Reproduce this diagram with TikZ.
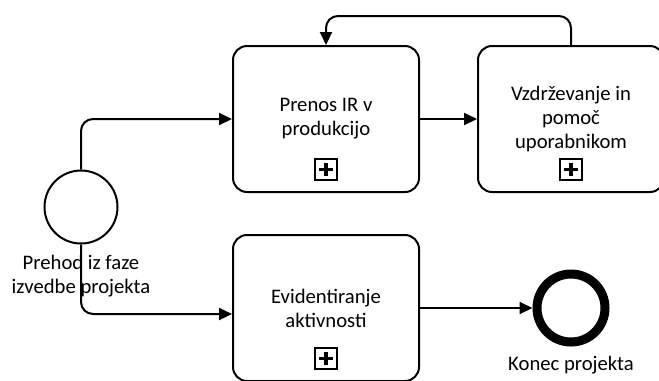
\documentclass[tikz,border=0pt]{standalone}
\usepackage{fontspec}
\setmainfont{Carlito}
\usetikzlibrary{positioning, arrows.meta}

\begin{document}
\begin{tikzpicture}[x=0.75pt,y=-0.75pt]
  \tikzset{
    task/.style={
      draw,
      line width=1.5pt,
      rounded corners=10.5pt,
      minimum width=139.5pt,
      minimum height=109.5pt,
      align=center,
      font=\fontsize{15.5}{18}\selectfont
    },
    subproc/.style={
      draw,
      line width=1.3pt,
      minimum size=16pt,
      inner sep=0pt,
      path picture={
        \draw[line width=2.7pt]
          ([xshift=-5pt]path picture bounding box.center) --
          ([xshift=5pt]path picture bounding box.center);
        \draw[line width=2.7pt]
          ([yshift=-5pt]path picture bounding box.center) --
          ([yshift=5pt]path picture bounding box.center);
      }
    },
    startev/.style={
      circle,
      draw,
      line width=1.5pt,
      minimum size=54.75pt,
      inner sep=0pt
    },
    endev/.style={
      circle,
      draw,
      line width=6.75pt,
      minimum size=51pt,
      inner sep=0pt
    },
    flow/.style={
      line width=1.5pt,
      rounded corners=9pt,
      -{Triangle[length=9.75pt,width=9pt]}
    },
    lbl/.style={
      align=center,
      font=\fontsize{15.5}{18}\selectfont
    }
  }
  \clip (0,0) rectangle (659,380);

  % Events
  \node[startev] (start) at (81,207) {};
  \node[endev] (finish) at (571,308) {};

  % Tasks
  \node[task] (prenos) at (326,119) {Prenos IR v\\produkcijo};
  \node[task] (vzdrz) at (571,119) {Vzdrževanje in\\pomoč\\uporabnikom};
  \node[task] (evid) at (326,308) {Evidentiranje\\aktivnosti};

  % Subprocess markers
  \node[subproc] (prenosplus) at ([yshift=17.5pt]prenos.south) {};
  \node[subproc] (vzdrzplus) at ([yshift=17.5pt]vzdrz.south) {};
  \node[subproc] (evidplus) at ([yshift=17.5pt]evid.south) {};

  % Labels
  \node[lbl] (startlbl) at (81,276) {Prehod iz faze\\izvedbe projekta};
  \node[lbl] (finishlbl) at (571,365) {Konec projekta};

  % Sequence flows
  \draw[flow] (start.north) |- (prenos.west);
  \draw[flow] (start.south) |- ([yshift=-4.5pt]evid.west);
  \draw[flow] (prenos) -- (vzdrz);
  \draw[flow] (vzdrz.north) -- ++(0,-29) -| (prenos.north);
  \draw[flow] (evid) -- (finish);
\end{tikzpicture}
\end{document}
